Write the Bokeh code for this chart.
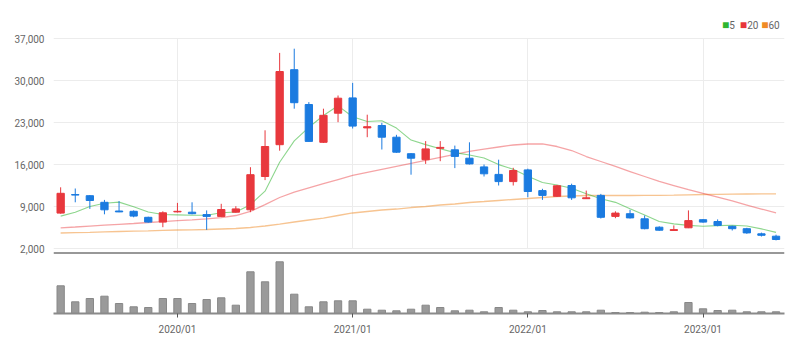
import pandas as pd
from bokeh.plotting import figure
from bokeh.layouts import column
from bokeh.models import (Range1d, FixedTicker, Span, Label, ColumnDataSource,
                          NumeralTickFormatter)
from bokeh.embed import file_html
from bokeh.resources import INLINE

# ---------------- data ----------------
months = list(pd.period_range("2019-05", periods=50, freq="M").strftime("%Y/%m"))

open_ = [7900, 11000, 10800, 9700, 8250, 8200, 7200, 6400, 8100, 8050,
         7650, 7350, 8050, 8450, 14000, 19300, 31800, 26000, 19700, 24550,
         27100, 22100, 22500, 20550, 17800, 16800, 18700, 18450, 17050, 15600,
         14350, 13150, 15100, 11650, 10700, 12500, 10300, 10850, 7350, 7800,
         6950, 5550, 5000, 5450, 6800, 6500, 5700, 5300, 4450, 4050]
high = [12200, 12000, 10900, 10100, 9900, 8350, 7300, 8200, 9600, 9700,
        8350, 9450, 9050, 15550, 21700, 34600, 35300, 26400, 25300, 27500,
        29600, 24300, 22950, 20950, 17900, 19900, 19900, 19150, 19700, 16000,
        16800, 15450, 15300, 11950, 12600, 12800, 11650, 11100, 8200, 8450,
        7500, 5700, 5850, 8350, 6900, 6850, 5800, 5450, 4650, 4300]
low = [7800, 9700, 8600, 7700, 8050, 7200, 6300, 5550, 8000, 7700,
       5100, 7300, 8000, 8050, 13400, 18300, 25300, 19800, 19600, 23050,
       22000, 20550, 18500, 17950, 14300, 16100, 16550, 15400, 16000, 14000,
       12500, 12500, 10550, 10100, 10600, 10100, 10250, 7000, 7050, 7000,
       5200, 4950, 4950, 5400, 6300, 5700, 5000, 4450, 4000, 3350]
close = [11200, 10900, 10000, 8450, 8100, 7400, 6400, 7950, 8200, 7800,
         7350, 8500, 8600, 14300, 19000, 31500, 26300, 19850, 24200, 27050,
         22400, 22300, 20550, 18050, 17050, 18600, 18850, 17350, 16100, 14450,
         13150, 15000, 11500, 10850, 12450, 10450, 10450, 7200, 7900, 7100,
         5300, 5050, 5150, 6650, 6400, 5850, 5300, 4600, 4200, 3500]
volume = [277, 117, 150, 173, 100, 67, 60, 150, 150, 100,
          140, 157, 83, 417, 317, 517, 193, 67, 117, 127,
          127, 43, 33, 27, 43, 83, 60, 27, 33, 17,
          60, 33, 17, 30, 17, 17, 17, 33, 10, 10,
          13, 10, 17, 110, 47, 30, 33, 17, 17, 17]
ma5 = [7400, 8050, 9000, 9550, 9730, 8970, 8070, 7660, 7610, 7550,
       7540, 7960, 8090, 9310, 11550, 16380, 19940, 22190, 24170, 25780,
       23960, 23160, 23300, 22070, 20070, 19310, 18620, 17980, 17590, 17070,
       15980, 15210, 14040, 12990, 12590, 12050, 11140, 10280, 9690, 8620,
       7590, 6510, 6100, 5850, 5710, 5820, 5870, 5760, 5270, 4690]
ma20 = [5450, 5580, 5730, 5880, 6030, 6170, 6330, 6480, 6630, 6780,
        6950, 7150, 7500, 8170, 9300, 10500, 11400, 12100, 12800, 13500,
        14170, 14670, 15170, 15670, 16170, 16670, 17170, 17670, 18170, 18580,
        18920, 19250, 19420, 19420, 19000, 18330, 17330, 16500, 15670, 14830,
        14000, 13170, 12500, 11830, 11170, 10580, 9920, 9250, 8580, 7920]
ma60 = [4580, 4640, 4700, 4770, 4830, 4890, 4950, 5020, 5080, 5120,
        5170, 5250, 5330, 5500, 5750, 6080, 6420, 6750, 7080, 7500,
        7920, 8170, 8420, 8580, 8830, 9000, 9250, 9420, 9670, 9830,
        10000, 10170, 10330, 10500, 10670, 10750, 10830, 10830, 10830, 10830,
        10850, 10870, 10900, 10950, 11000, 11030, 11060, 11080, 11100, 11100]
price_ticks = [2000, 9000, 16000, 23000, 30000, 37000]
legend_labels = ["5", "20", "60"]

# ---------------- styling ----------------
RED = "#e8383d"
BLUE = "#1b7be0"
C5, C20, C60 = "#2fb52f", "#e8363a", "#f08a24"
FONT = "Roboto"

x = list(range(len(months)))
year_idx = [i for i, m in enumerate(months) if m.endswith("/01")]
colors = [RED if c >= o else BLUE for o, c in zip(open_, close)]
src = ColumnDataSource(dict(
    x=x, open=open_, close=close, high=high, low=low, color=colors,
    top=[max(o, c) for o, c in zip(open_, close)],
    bottom=[min(o, c) for o, c in zip(open_, close)],
    vol=volume, ma5=ma5, ma20=ma20, ma60=ma60))

xr = Range1d(-0.49, 49.58)

# ---------------- price figure ----------------
p = figure(width=804, height=256, x_range=xr, y_range=Range1d(1167, 41667),
           output_backend="svg", toolbar_location=None,
           min_border_left=53, min_border_right=20, min_border_top=10,
           min_border_bottom=3)
p.outline_line_color = None
p.background_fill_color = "white"
p.border_fill_color = "white"
p.xaxis.visible = False
p.xaxis.ticker = FixedTicker(ticks=year_idx)
p.xgrid.ticker = FixedTicker(ticks=year_idx)
p.xgrid.grid_line_color = "#ececec"
g0 = p.xgrid[0]
if "cross_bounds" in g0.properties():
    g0.cross_bounds = (price_ticks[0], price_ticks[-1])
p.ygrid.ticker = FixedTicker(ticks=price_ticks)
p.ygrid.grid_line_color = "#ececec"

p.yaxis.ticker = FixedTicker(ticks=price_ticks)
p.yaxis.formatter = NumeralTickFormatter(format="0,0")
p.yaxis.axis_line_color = None
p.yaxis.major_tick_line_color = None
p.yaxis.minor_tick_line_color = None
p.yaxis.major_label_standoff = 3
p.yaxis.major_label_text_font = FONT
p.yaxis.major_label_text_font_size = "10px"
p.yaxis.major_label_text_color = "#666666"

p.line("x", "ma60", source=src, line_color=C60, line_alpha=0.5, line_width=1.3)
p.line("x", "ma20", source=src, line_color=C20, line_alpha=0.45, line_width=1.3)
p.line("x", "ma5", source=src, line_color=C5, line_alpha=0.55, line_width=1.1)

p.segment(x0="x", y0="high", x1="x", y1="low", line_color="color", line_width=1, source=src)
p.vbar(x="x", width=0.5, top="top", bottom="bottom", fill_color="color",
       line_color="color", line_width=1, source=src)

p.add_layout(Span(location=1167, dimension="width", line_color="#333333", line_width=2))

# legend (squares + labels)
leg_y = 39333
for lx, txt, col in [(45.30, "■", C5), (45.80, legend_labels[0], "#666666"),
                     (46.52, "■", C20), (47.02, legend_labels[1], "#666666"),
                     (47.98, "■", C60), (48.48, legend_labels[2], "#666666")]:
    p.add_layout(Label(x=lx, y=leg_y, text=txt, text_color=col, text_font=FONT,
                       text_font_size="10px" if txt != "■" else "12px",
                       text_baseline="middle", text_align="left"))

# ---------------- volume figure ----------------
v = figure(width=804, height=97, x_range=xr, y_range=Range1d(0, 550),
           output_backend="svg", toolbar_location=None, y_axis_location=None,
           min_border_left=53, min_border_right=20, min_border_top=2,
           min_border_bottom=40)
v.outline_line_color = None
v.background_fill_color = "white"
v.border_fill_color = "white"
v.grid.visible = False
v.vbar(x="x", width=0.5, top="vol", bottom=0, fill_color="#9a9a9a",
       line_color="#888888", source=src)
v.xaxis.ticker = FixedTicker(ticks=year_idx)
v.xaxis.major_label_overrides = {i: months[i] for i in year_idx}
v.xaxis.axis_line_color = "#8a8a8a"
v.xaxis.axis_line_width = 2
v.xaxis.major_tick_line_color = "#555555"
v.xaxis.major_tick_out = 4
v.xaxis.major_tick_in = 0
v.xaxis.minor_tick_line_color = None
v.xaxis.major_label_standoff = 6
v.xaxis.major_label_text_font = FONT
v.xaxis.major_label_text_font_size = "10px"
v.xaxis.major_label_text_color = "#666666"

layout = column(p, v, spacing=0)
open("out.html", "w").write(file_html(layout, INLINE))
